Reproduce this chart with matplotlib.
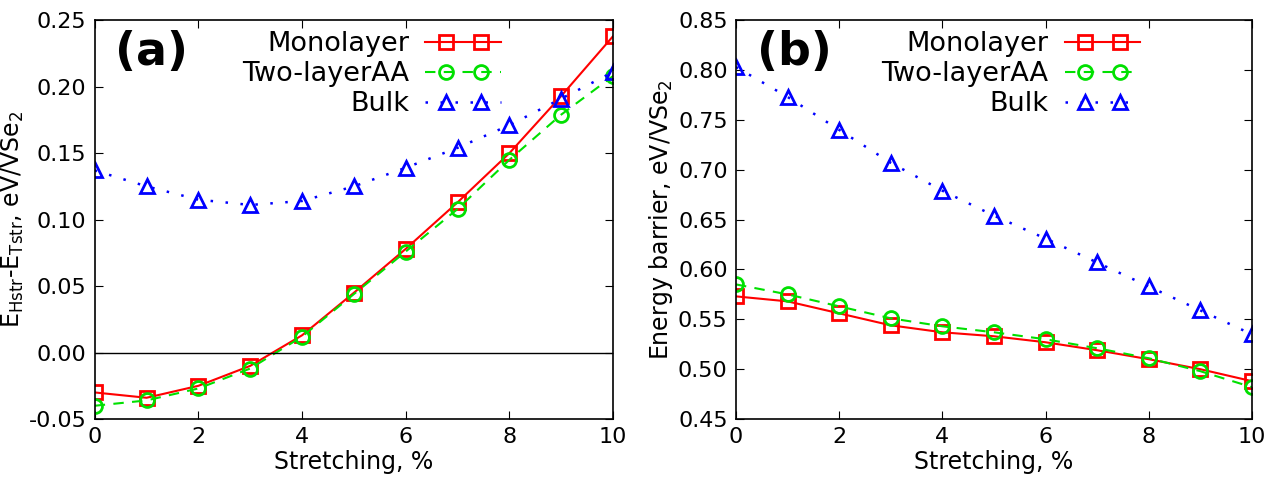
import numpy as np
import matplotlib.pyplot as plt
from matplotlib.lines import Line2D
from matplotlib.legend_handler import HandlerLine2D

# strain, %
strain = [0, 1, 2, 3, 4, 5, 6, 7, 8, 9, 10]

# (a) E_Hstr - E_Tstr, eV/VSe2
dE_mono = [-0.030, -0.034, -0.025, -0.010, 0.013, 0.045, 0.078, 0.113, 0.150, 0.193, 0.238]
dE_two = [-0.040, -0.036, -0.027, -0.012, 0.012, 0.044, 0.076, 0.108, 0.145, 0.179, 0.208]
dE_bulk = [0.137, 0.125, 0.115, 0.111, 0.114, 0.125, 0.139, 0.154, 0.171, 0.191, 0.211]

# (b) energy barrier, eV/VSe2
eb_mono = [0.573, 0.568, 0.556, 0.544, 0.537, 0.533, 0.527, 0.519, 0.510, 0.500, 0.488]
eb_two = [0.585, 0.575, 0.563, 0.551, 0.543, 0.537, 0.530, 0.521, 0.511, 0.498, 0.482]
eb_bulk = [0.803, 0.773, 0.740, 0.707, 0.679, 0.654, 0.631, 0.607, 0.583, 0.559, 0.535]

labels = ["Monolayer", "Two-layerAA", "Bulk"]

plt.rcParams['font.family'] = ['DejaVu Sans']


class GnuplotHandler(HandlerLine2D):
    # full-length sample line, the two markers set inward (gnuplot key look)
    def create_artists(self, legend, orig_handle, xdescent, ydescent,
                       width, height, fontsize, trans):
        pad = self._marker_pad * fontsize
        x0, x1 = -xdescent, width - xdescent
        xdata = np.array([x0, x0 + pad, x1 - pad, x1])
        ydata = np.full_like(xdata, (height - ydescent) / 2)
        line = Line2D(xdata, ydata)
        self.update_prop(line, orig_handle, legend)
        line.set_markevery([1, 2])
        line.set_transform(trans)
        return [line]


fig = plt.figure(figsize=(12.8, 4.8), dpi=100)
ax1 = fig.add_axes([0.074, 0.127, 0.405, 0.831])
ax2 = fig.add_axes([0.575, 0.127, 0.403, 0.831])


def draw(ax, mono, two, bulk):
    ax.plot(strain, mono, color='red', ls='-', lw=1.5, marker='s', ms=10,
            mfc='none', mec='red', mew=2, label=labels[0])
    ax.plot(strain, two, color='#00e000', ls=(0, (5, 4)), lw=1.5, marker='o', ms=10,
            mfc='none', mec='#00e000', mew=2, label=labels[1])
    ax.plot(strain, bulk, color='blue', ls=(0, (1, 5)), lw=1.8, marker='^', ms=10,
            mfc='none', mec='blue', mew=2, label=labels[2])
    ax.set_xlim(0, 10)
    ax.set_xticks([0, 2, 4, 6, 8, 10])
    ax.tick_params(direction='in', top=True, right=True, length=6, labelsize=16, pad=6)
    ax.set_xlabel("Stretching, %", fontsize=17, labelpad=2)
    leg = ax.legend(loc='upper right', bbox_to_anchor=(0.805, 1.0), frameon=False,
                    markerfirst=False, numpoints=2, handlelength=2.8,
                    fontsize=19.5, labelspacing=0.15, handletextpad=0.6,
                    borderaxespad=0.0,
                    handler_map={Line2D: GnuplotHandler(marker_pad=0.75)})
    # right-align legend texts like gnuplot
    for col in leg._legend_handle_box.get_children():
        col.align = "right"
    for sp in ax.spines.values():
        sp.set_linewidth(1.2)


draw(ax1, dE_mono, dE_two, dE_bulk)
ax1.axhline(0, color='black', lw=1)
ax1.set_ylim(-0.05, 0.25)
ax1.set_yticks(np.arange(-0.05, 0.26, 0.05))
ax1.set_yticklabels(["-0.05", "0.00", "0.05", "0.10", "0.15", "0.20", "0.25"])
ax1.set_ylabel(r"E$_\mathregular{Hstr}$-E$_\mathregular{Tstr}$, eV/VSe$_\mathregular{2}$",
               fontsize=17, labelpad=2)
ax1.text(0.04, 0.975, "(a)", transform=ax1.transAxes, fontsize=33,
         fontweight='bold', ha='left', va='top')

draw(ax2, eb_mono, eb_two, eb_bulk)
ax2.set_ylim(0.45, 0.85)
ax2.set_yticks(np.arange(0.45, 0.86, 0.05))
ax2.set_yticklabels(["%.2f" % v for v in np.arange(0.45, 0.86, 0.05)])
ax2.set_ylabel(r"Energy barrier, eV/VSe$_\mathregular{2}$", fontsize=17, labelpad=2)
ax2.text(0.04, 0.975, "(b)", transform=ax2.transAxes, fontsize=33,
         fontweight='bold', ha='left', va='top')

fig.savefig("out.png", dpi=100)
